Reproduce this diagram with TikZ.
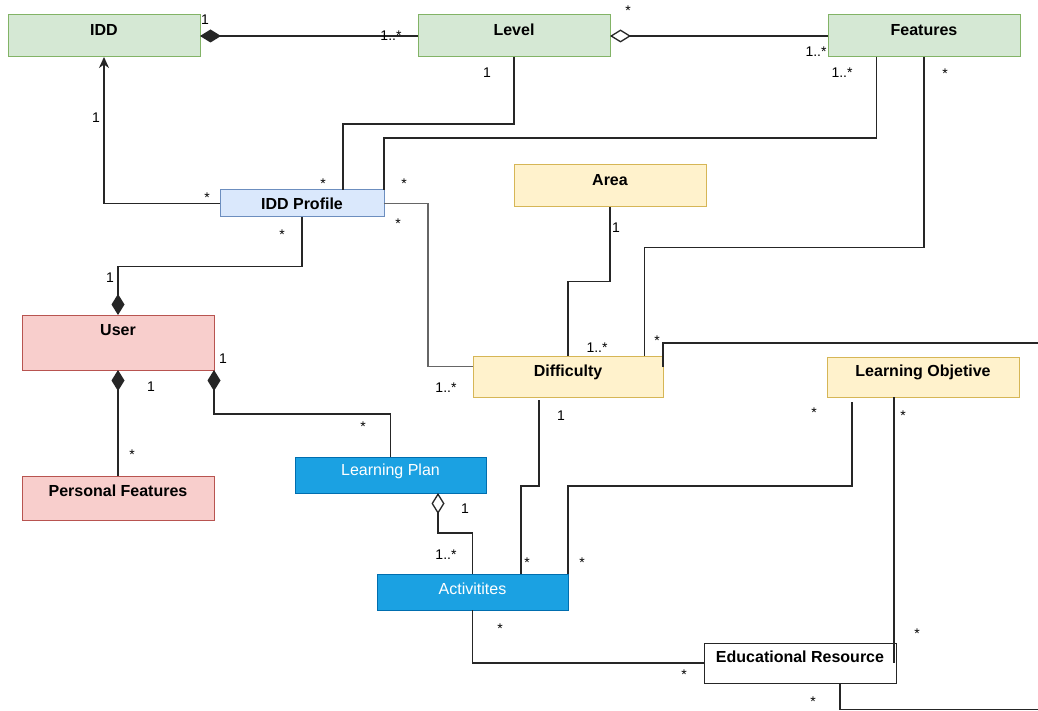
\documentclass[tikz,border=0pt]{standalone}
\usepackage{fontspec}
\setmainfont{Liberation Sans}
\usetikzlibrary{arrows.meta,calc}
\definecolor{gfill}{HTML}{D5E8D4}\definecolor{gdraw}{HTML}{82B366}
\definecolor{bfill}{HTML}{DAE8FC}\definecolor{bdraw}{HTML}{6C8EBF}
\definecolor{yfill}{HTML}{FFF2CC}\definecolor{ydraw}{HTML}{D6B656}
\definecolor{rfill}{HTML}{F8CECC}\definecolor{rdraw}{HTML}{B85450}
\definecolor{dfill}{HTML}{1BA1E2}\definecolor{ddraw}{HTML}{006EAF}
\begin{document}
\begin{tikzpicture}[x=1pt,y=-1pt,
  cls/.style={draw, anchor=north west, inner sep=0pt, outer sep=0pt,
    minimum width=192pt, minimum height=42pt, text height=11.5pt, text depth=#1,
    font=\fontsize{16}{18}\selectfont\bfseries, line width=1pt},
  gcls/.style={cls=#1, fill=gfill, draw=gdraw},
  ycls/.style={cls=#1, fill=yfill, draw=ydraw},
  rcls/.style={cls=#1, fill=rfill, draw=rdraw},
  bcls/.style={cls=#1, fill=bfill, draw=bdraw},
  dcls/.style={cls=#1, fill=dfill, draw=ddraw, text=white, font=\fontsize{16}{18}\selectfont},
  wcls/.style={cls=#1, fill=white, draw=black!85},
  lab/.style={anchor=base, inner sep=0pt, font=\fontsize{14}{16}\selectfont},
  conn/.style={draw=black!85, line width=1.3pt},
  grayconn/.style={draw=black!60, line width=1.8pt},
  fdia/.style={{Diamond[length=21pt,width=13pt]}-},
  odia/.style={{Diamond[open,length=21pt,width=13pt]}-},
  fdiaend/.style={-{Diamond[length=21pt,width=13pt]}},
  arr/.style={-{Stealth[length=11pt,width=10pt,inset=3.5pt]}}
]
\useasboundingbox[fill=white] (0,0) rectangle (1038,711);

% classes
\node[gcls=12pt] (idd) at (8,15) {IDD};
\node[gcls=12pt] (level) at (418,15) {Level};
\node[gcls=12pt] (features) at (828,15) {Features};
\node[bcls=0pt, minimum width=164pt, minimum height=27pt] (profile) at (220,190) {IDD Profile};
\node[ycls=12pt] (area) at (514,165) {Area};
\node[rcls=25pt, minimum height=55pt] (user) at (22,315) {User};
\node[rcls=14pt, minimum height=44pt] (pf) at (22,476) {Personal Features};
\node[ycls=11pt, minimum width=190pt, minimum height=41pt] (difficulty) at (473,356) {Difficulty};
\node[ycls=12pt, minimum height=40pt] (lo) at (827,357) {Learning Objetive};
\node[dcls=10pt, minimum width=191pt, minimum height=36pt] (lplan) at (295,457) {Learning Plan};
\node[dcls=7pt, minimum width=191pt, minimum height=36pt] (activities) at (377,574) {Activitites};
\node[wcls=13pt, minimum height=40pt] (edres) at (704,643) {Educational Resource};

\coordinate (e1) at (1038,343);
\coordinate (e2) at (1038,709.5);

% connectors
\draw[conn, fdia] (idd.east) -- (level.west);
\draw[conn, odia] (level.east) -- (features.west);
\draw[conn, arr] (profile.west) -| (idd.south);
\draw[conn] (level.south) -- ++(0,67) -| ([xshift=41pt]profile.north);
\draw[conn] ([xshift=-47.5pt]features.south) -- ++(0,81) -| (profile.north east);
\draw[conn] (features.south) -- ++(0,190.5) -| ([xshift=76.5pt]difficulty.north);
\draw[grayconn] (profile.east) -- ++(44,0) |- ([yshift=10pt]difficulty.west);
\draw[conn, fdiaend] (profile.south) -- ++(0,49.5) -| (user.north);
\draw[conn] (area.south) -- ++(0,74.5) -| (difficulty.north);
\draw[conn] ([yshift=9.5pt]difficulty.east) |- (e1);
\draw[conn] ($(difficulty.south)+(-29,3)$) |- ($(activities.north)+(48.5,-88)$) -- ($(activities.north)+(48.5,0)$);
\draw[conn] ($(lo.south)+(-71,5)$) |- ($(activities.north east)+(0,-88)$) -- (activities.north east);
\draw[conn] ([xshift=-29pt]lo.south) -- ([xshift=-2pt]edres.east);
\draw[conn, fdia] (user.south east) -- ++(0,44) -| (lplan.north);
\draw[conn, fdia] (user.south) -- (pf.north);
\draw[conn, odia] ([xshift=47.5pt]lplan.south) -- ++(0,40) -| (activities.north);
\draw[conn] (activities.south) |- (edres.west);
\draw[conn] ([xshift=40pt]edres.south) |- (e2);

% multiplicities
\node[lab] at (205,25) {1};
\node[lab] at (391,41) {1..*};
\node[lab] at (628,16) {*};
\node[lab] at (816,57) {1..*};
\node[lab] at (842,78) {1..*};
\node[lab] at (487,78) {1};
\node[lab] at (945,79) {*};
\node[lab] at (96,123) {1};
\node[lab] at (207,203) {*};
\node[lab] at (323,189) {*};
\node[lab] at (404,189) {*};
\node[lab] at (398,229) {*};
\node[lab] at (282,240) {*};
\node[lab] at (110,282) {1};
\node[lab] at (616,233) {1};
\node[lab] at (597,352) {1..*};
\node[lab] at (657,345) {*};
\node[lab] at (446,392) {1..*};
\node[lab] at (223,363) {1};
\node[lab] at (151,391) {1};
\node[lab] at (132,459) {*};
\node[lab] at (363,431) {*};
\node[lab] at (465,513) {1};
\node[lab] at (446,559) {1..*};
\node[lab] at (561,420) {1};
\node[lab] at (527,567) {*};
\node[lab] at (582,567) {*};
\node[lab] at (814,417) {*};
\node[lab] at (903,420) {*};
\node[lab] at (917,638) {*};
\node[lab] at (500,633) {*};
\node[lab] at (684,679) {*};
\node[lab] at (813,706) {*};
\end{tikzpicture}
\end{document}
